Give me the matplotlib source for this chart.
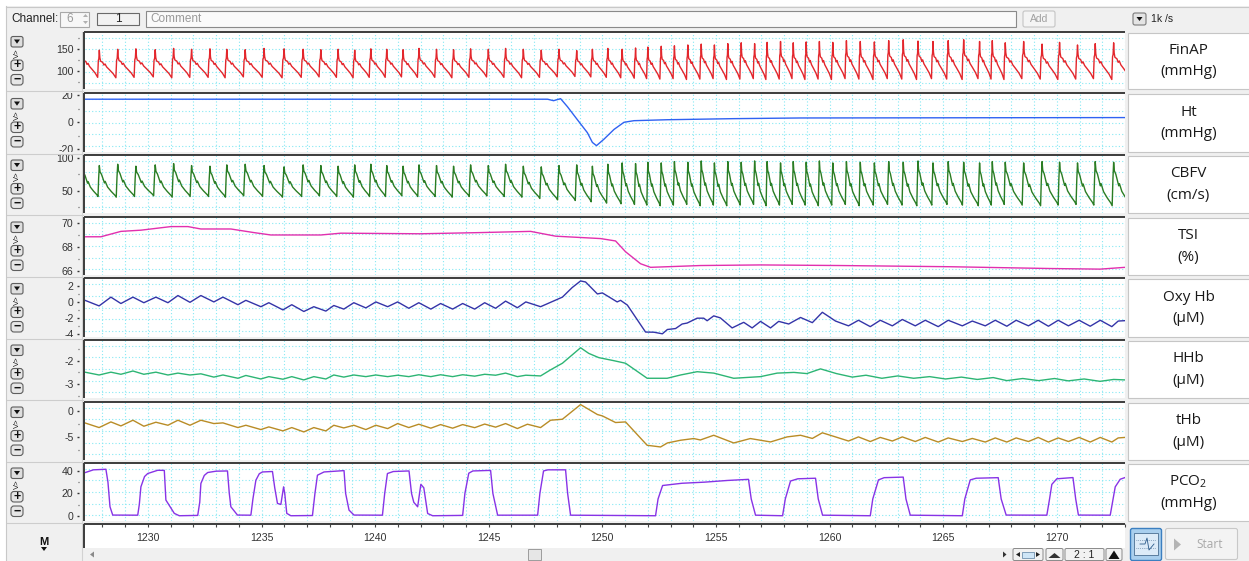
import matplotlib
matplotlib.use("Agg")
import matplotlib.pyplot as plt
from matplotlib.patches import Rectangle, FancyBboxPatch, Polygon
from matplotlib.transforms import Bbox, TransformedBbox

plt.rcParams['font.family'] = ['Liberation Sans', 'DejaVu Sans']
plt.rcParams['mathtext.fontset'] = 'custom'
plt.rcParams['mathtext.rm'] = 'Open Sans'

# ---------------- data (read from the recording) ----------------
T_START, T_END = 1227.23, 1273.0
time_ticks = [1230, 1235, 1240, 1245, 1250, 1255, 1260, 1265, 1270]

# systolic peak times of each heart beat (s)
beat_t = [1227.14, 1227.86, 1228.67, 1229.47, 1230.32, 1231.13, 1231.92, 1232.73, 1233.47, 1234.28,
          1235.11, 1235.99, 1236.83, 1237.61, 1238.37, 1239.10, 1239.81, 1240.51, 1241.23, 1241.93,
          1242.70, 1243.45, 1244.20, 1244.98, 1245.74, 1246.52, 1247.31, 1248.09, 1248.87, 1249.56,
          1250.24, 1250.87, 1251.46, 1252.00, 1252.59, 1253.17, 1253.76, 1254.35, 1254.93, 1255.52,
          1256.11, 1256.70, 1257.25, 1257.84, 1258.40, 1258.97, 1259.55, 1260.14, 1260.74, 1261.35,
          1261.97, 1262.60, 1263.24, 1263.89, 1264.55, 1265.22, 1265.90, 1266.60, 1267.16, 1267.73,
          1268.54, 1269.35, 1270.12, 1270.91, 1271.69, 1272.50, 1273.30]
finap_sys = [150, 148, 150, 151, 149, 152, 150, 151, 150, 149, 152, 151, 150, 149, 150, 148, 151, 150, 149, 152,
             150, 149, 151, 150, 152, 150, 148, 150, 147, 150, 152, 150, 153,
             155, 157, 158, 160, 162, 160, 163, 165, 163, 166, 168, 165, 167, 168, 166, 170, 168, 167, 170, 172,
             169, 168, 170, 172, 168, 170, 165, 168, 162, 166, 160, 163, 165, 164]
finap_dia = [86, 85, 84, 85, 86, 84, 85, 85, 84, 86, 85, 84, 85, 86, 85, 84, 85, 85, 86, 85,
             85, 84, 85, 86, 85, 84, 85, 86, 87, 86, 85, 84, 83,
             82, 81, 82, 80, 81, 82, 80, 81, 82, 80, 81, 82, 80, 81, 80, 82, 81, 80, 82, 81,
             80, 82, 81, 80, 82, 81, 80, 82, 81, 80, 81, 82, 80, 81]
cbfv_sys = [86, 88, 90, 87, 89, 91, 88, 87, 89, 90, 88, 86, 89, 88, 87, 89, 90, 88, 87, 89,
            88, 87, 89, 88, 90, 87, 86, 88, 89, 87, 90, 92, 91,
            93, 92, 94, 93, 95, 92, 94, 93, 95, 94, 92, 94, 93, 95, 92, 94, 93, 92, 94, 93,
            95, 92, 94, 93, 92, 94, 93, 92, 94, 93, 92, 94, 93, 92]
cbfv_dia = [42, 41, 40, 41, 42, 40, 41, 41, 40, 42, 41, 40, 41, 42, 41, 40, 41, 41, 42, 41,
            41, 40, 41, 42, 41, 40, 38, 36, 35, 33, 31, 30, 29,
            28, 27, 28, 29, 27, 28, 27, 28, 29, 27, 28, 29, 28, 27, 28, 29, 27, 28, 29, 28,
            27, 28, 29, 28, 27, 28, 29, 28, 27, 28, 29, 28, 27, 28]

# one beat, from a systolic peak to the next (phase 0..1, 1 = peak, 0 = diastolic floor)
finap_shape_p = [0, 0.03, 0.07, 0.18, 0.25, 0.31, 0.40, 0.55, 0.75, 0.90, 0.94, 0.97, 1.0]
finap_shape_v = [1.0, 0.72, 0.6, 0.56, 0.46, 0.5, 0.39, 0.29, 0.15, 0.0, 0.62, 0.68, 1.0]
cbfv_shape_p = [0, 0.04, 0.12, 0.20, 0.28, 0.32, 0.45, 0.65, 0.85, 0.92, 0.96, 1.0]
cbfv_shape_v = [1.0, 0.8, 0.72, 0.58, 0.45, 0.5, 0.32, 0.18, 0.06, 0.0, 0.6, 1.0]

ht_t = [1227.23, 1235.0, 1247.59, 1247.85, 1248.16, 1248.46, 1248.90, 1249.34, 1249.56, 1249.74,
        1250.07, 1250.51, 1250.95, 1251.39, 1252.85, 1255.78, 1258.72, 1273.0]
ht_v = [17.1, 17.1, 17.1, 16.0, 17.5, 11.6, 1.9, -7.7, -14.9, -17.3,
        -12.5, -5.3, 0.0, 1.2, 1.9, 2.7, 3.2, 3.5]

tsi_t = [1227.23, 1227.93, 1228.81, 1229.69, 1231.01, 1231.76, 1232.33, 1233.65, 1234.66, 1235.41,
         1237.61, 1238.49, 1242.0, 1244.64, 1246.84, 1247.94, 1249.92, 1250.58, 1251.02, 1251.68,
         1252.12, 1254.32, 1256.96, 1260.47, 1265.31, 1269.71, 1271.91, 1273.0]
tsi_v = [68.85, 68.85, 69.3, 69.4, 69.7, 69.7, 69.5, 69.5, 69.2, 69.0,
         69.0, 69.15, 69.1, 69.2, 69.3, 68.9, 68.7, 68.5, 67.6, 66.6,
         66.3, 66.45, 66.5, 66.45, 66.35, 66.2, 66.15, 66.3]

oxy_t = [1227.23, 1227.85, 1228.37, 1228.81, 1229.34, 1229.82, 1230.35, 1230.88, 1231.32, 1231.85,
         1232.33, 1232.90, 1233.30, 1233.96, 1234.31, 1234.97, 1235.32, 1235.94, 1236.33, 1236.86,
         1237.30, 1237.83, 1238.18, 1238.62, 1239.06, 1239.59, 1240.03, 1240.55, 1240.99, 1241.48,
         1241.92, 1242.45, 1242.88, 1243.41, 1243.85, 1244.38, 1244.82, 1245.30, 1245.74, 1246.26,
         1246.63, 1247.28, 1248.24, 1248.67, 1249.04, 1249.26, 1249.78, 1250.00, 1250.65, 1250.80,
         1251.10, 1251.90, 1252.27, 1252.64, 1252.86, 1253.22, 1253.51, 1253.73, 1254.17, 1254.46,
         1254.61, 1254.90, 1255.19, 1255.71, 1256.22, 1256.59, 1256.96, 1257.40, 1257.76, 1258.20,
         1258.72, 1259.24, 1259.68, 1260.26, 1260.83, 1261.27, 1261.79, 1262.23, 1262.76, 1263.20,
         1263.77, 1264.21, 1264.78, 1265.22, 1265.84, 1266.28, 1266.85, 1267.29, 1267.80, 1268.21,
         1268.75, 1269.18, 1269.63, 1270.06, 1270.51, 1270.98, 1271.47, 1271.91, 1272.42, 1272.70,
         1273.0]
oxy_v = [0.2, -0.5, 0.6, -0.2, 0.6, -0.1, 0.6, -0.1, 0.8, -0.05,
         0.8, 0.0, 0.6, -0.35, 0.2, -0.6, -0.1, -1.0, -0.35, -1.2,
         -0.6, -1.15, -0.45, -0.9, -0.1, -0.75, 0.0, -0.6, 0.0, -0.8,
         -0.1, -0.9, -0.2, -0.9, -0.2, -0.9, -0.1, -0.8, 0.1, -0.73,
         0.0, -0.6, 0.6, 1.8, 2.63, 2.5, 1.0, 1.13, 0.0, 0.2,
         -0.4, -3.78, -3.8, -4.0, -3.46, -3.34, -2.77, -2.65, -2.04, -2.04,
         -2.36, -1.75, -2.0, -3.26, -2.56, -3.26, -2.44, -3.26, -2.44, -2.77,
         -1.95, -2.6, -1.3, -2.4, -3.0, -2.3, -3.1, -2.3, -3.0, -2.2,
         -3.0, -2.3, -3.1, -2.3, -3.0, -2.4, -3.0, -2.3, -3.05, -2.3,
         -3.0, -2.3, -3.05, -2.3, -3.0, -2.3, -3.05, -2.3, -3.1, -2.4,
         -2.35]

hhb_t = [1227.23, 1227.85, 1228.37, 1228.81, 1229.34, 1229.82, 1230.35, 1230.88, 1231.32, 1231.85,
         1232.33, 1232.90, 1233.30, 1233.96, 1234.31, 1234.97, 1235.32, 1235.94, 1236.33, 1236.86,
         1237.30, 1237.83, 1238.18, 1238.62, 1239.06, 1239.59, 1240.03, 1240.55, 1240.99, 1241.48,
         1241.92, 1242.45, 1242.88, 1243.41, 1243.85, 1244.38, 1244.82, 1245.30, 1245.74, 1246.26,
         1246.63, 1247.28, 1247.72, 1248.24, 1249.04, 1249.40, 1249.84, 1250.50, 1251.02, 1251.97,
         1252.85, 1253.44, 1254.17, 1254.90, 1255.78, 1256.96, 1257.69, 1258.43, 1259.0, 1259.6,
         1260.3, 1261.0, 1261.6, 1262.3, 1263.0, 1263.7, 1264.4, 1265.1, 1265.8, 1266.5,
         1267.2, 1267.8, 1268.5, 1269.2, 1269.9, 1270.5, 1271.2, 1271.9, 1272.5, 1273.0]
hhb_v = [-2.49, -2.61, -2.49, -2.58, -2.44, -2.58, -2.49, -2.61, -2.53, -2.61,
         -2.56, -2.70, -2.61, -2.75, -2.63, -2.78, -2.68, -2.79, -2.68, -2.82,
         -2.68, -2.78, -2.61, -2.70, -2.61, -2.68, -2.61, -2.68, -2.62, -2.68,
         -2.60, -2.68, -2.60, -2.68, -2.60, -2.66, -2.58, -2.62, -2.53, -2.68,
         -2.62, -2.65, -2.39, -2.11, -1.45, -1.69, -1.87, -2.0, -2.11, -2.75,
         -2.75, -2.61, -2.47, -2.53, -2.75, -2.68, -2.53, -2.5, -2.55, -2.35,
         -2.55, -2.7, -2.62, -2.75, -2.65, -2.75, -2.68, -2.78, -2.7, -2.8,
         -2.72, -2.85, -2.76, -2.85, -2.76, -2.86, -2.78, -2.88, -2.8, -2.82]

thb_t = [1227.23, 1227.85, 1228.37, 1228.81, 1229.34, 1229.82, 1230.35, 1230.88, 1231.32, 1231.85,
         1232.33, 1232.90, 1233.30, 1233.96, 1234.31, 1234.97, 1235.32, 1235.94, 1236.33, 1236.86,
         1237.30, 1237.83, 1238.18, 1238.62, 1239.06, 1239.59, 1240.03, 1240.55, 1240.99, 1241.48,
         1241.92, 1242.45, 1242.88, 1243.41, 1243.85, 1244.38, 1244.82, 1245.30, 1245.74,
         1246.26, 1246.70, 1247.28, 1247.72, 1248.24, 1249.04, 1249.78, 1250.00, 1250.58, 1251.02,
         1251.97, 1252.56, 1252.86, 1253.44, 1254.02, 1254.31, 1254.90, 1255.78, 1256.51, 1257.40,
         1258.13, 1258.72,
         1259.24, 1259.68, 1260.26, 1260.83, 1261.27, 1261.79, 1262.23, 1262.76, 1263.20, 1263.77,
         1264.21, 1264.78, 1265.22, 1265.84, 1266.28, 1266.85, 1267.29, 1267.80, 1268.21, 1268.75,
         1269.18, 1269.63, 1270.06, 1270.51, 1270.98, 1271.47, 1271.91, 1272.42, 1272.70, 1273.0]
thb_v = [-2.28, -3.18, -2.08, -2.86, -1.75, -2.92, -2.14, -2.73, -1.75, -2.73,
         -1.75, -2.40, -2.27, -3.18, -2.73, -3.57, -3.05, -3.83, -3.18, -4.03,
         -3.18, -3.83, -2.73, -3.25, -2.73, -3.57, -2.73, -3.38, -2.40, -3.18,
         -2.53, -3.3, -2.6, -3.3, -2.6, -3.2, -2.5, -3.1, -2.4,
         -3.37, -2.53, -3.18, -1.75, -1.56, 1.3, -0.64, -0.91, -2.2, -2.08,
         -6.63, -6.96, -6.18, -5.65, -5.32, -5.6, -4.68, -6.18, -5.32, -5.98,
         -5.0, -4.68,
         -5.3, -4.2, -5.0, -5.8, -5.0, -5.9, -5.1, -5.8, -5.0, -5.9,
         -5.1, -6.0, -5.2, -5.9, -5.3, -6.0, -5.2, -6.0, -5.2, -5.9,
         -5.1, -6.0, -5.2, -5.9, -5.1, -6.0, -5.1, -6.0, -5.2, -5.1]

pco2_t = [1227.23, 1227.32, 1227.6, 1228.15, 1228.24, 1228.33, 1228.45, 1229.55, 1229.62, 1229.69,
          1229.85, 1229.99, 1230.43, 1230.72, 1230.79, 1231.16, 1231.38, 1232.19, 1232.28, 1232.33,
          1232.48, 1232.63, 1233.0, 1233.50, 1233.58, 1233.65, 1233.94, 1234.53, 1234.62, 1234.75,
          1234.9, 1235.04, 1235.48, 1235.58, 1235.70, 1235.85, 1235.97, 1236.02, 1236.11, 1236.29,
          1237.24, 1237.35, 1237.46, 1237.75, 1238.63, 1238.70, 1238.85, 1239.07, 1240.32, 1240.42,
          1240.54, 1240.8, 1241.49, 1241.60, 1241.70, 1241.87, 1242.01, 1242.14, 1242.31, 1242.53,
          1243.85, 1243.95, 1244.12, 1244.3, 1245.08, 1245.18, 1245.39, 1247.15, 1247.25, 1247.41,
          1247.6, 1248.38, 1248.47, 1248.60, 1252.34, 1252.45, 1252.65, 1253.5, 1254.5, 1255.5,
          1256.43, 1256.55, 1256.74, 1257.93, 1258.05, 1258.28, 1258.6, 1259.38, 1259.5, 1259.69,
          1261.79, 1261.9, 1262.15, 1262.4, 1263.24, 1263.36, 1263.55, 1265.84, 1265.95, 1266.19,
          1266.45, 1267.42, 1267.55, 1267.77, 1269.56, 1269.68, 1269.78, 1270.0, 1270.71, 1270.83,
          1270.95, 1272.35, 1272.57, 1272.79, 1273.0]
pco2_v = [38.5, 39.1, 41.0, 41.5, 30, 8, 0.6, 0.5, 10, 25.8,
          35, 37.7, 40.6, 40.5, 14, 2.1, 0, 0.3, 12, 28.8,
          36, 38.6, 39.8, 40, 20, 8, 0.6, 0.5, 15, 31.7,
          37.5, 39.1, 39.5, 25, 11, 10.1, 25.8, 20, 2.1, 0,
          0.2, 20, 36.2, 39.1, 40.3, 20, 5, 0.6, 0.5, 20,
          37.7, 39.5, 40, 20, 12, 8, 28, 25, 2, 0,
          0.3, 20, 38, 40, 40.5, 20, 0.5, 0.5, 20, 40,
          41, 41, 20, 0.5, 0, 15, 27, 29, 30, 31.5,
          32.5, 15, 0.5, 0, 15, 31, 33, 33.5, 15, 0.5,
          0, 15, 32, 34, 34.5, 15, 0.5, 0, 15, 32,
          33.5, 34, 15, 0.6, 0.5, 15, 28, 33, 34.1, 15,
          0.6, 0.5, 25.8, 32.6, 34.1]


def pulse_trace(peaks, sys_v, dia_v, shape_p, shape_v):
    """Chain one beat template per heart beat, scaled to that beat's systolic/diastolic values."""
    trough = shape_v.index(0.0)
    ts, vs = [], []
    for i in range(len(peaks) - 1):
        t0, t1 = peaks[i], peaks[i + 1]
        floor = dia_v[i + 1]
        for k in range(len(shape_p) - 1):
            top = sys_v[i] if k <= trough else sys_v[i + 1]
            ts.append(t0 + shape_p[k] * (t1 - t0))
            vs.append(floor + (top - floor) * shape_v[k])
    ts.append(peaks[-1])
    vs.append(sys_v[-1])
    return ts, vs


finap_t, finap_v = pulse_trace(beat_t, finap_sys, finap_dia, finap_shape_p, finap_shape_v)
cbfv_t, cbfv_v = pulse_trace(beat_t, cbfv_sys, cbfv_dia, cbfv_shape_p, cbfv_shape_v)

channels = [
    dict(name='FinAP', unit='(mmHg)', color='#e3262c', ylim=(58, 190),
         major=[100, 150], minor=[75, 125, 175], t=finap_t, v=finap_v),
    dict(name='Ht', unit='(mmHg)', color='#2f62f2', ylim=(-22, 21.7),
         major=[-20, 0, 20], minor=[-10, 10], t=ht_t, v=ht_v),
    dict(name='CBFV', unit='(cm/s)', color='#2a7d24', ylim=(16, 104),
         major=[50, 100], minor=[25, 75], t=cbfv_t, v=cbfv_v),
    dict(name='TSI', unit='(%)', color='#e22fae', ylim=(65.66, 70.5),
         major=[66, 68, 70], minor=[67, 69], t=tsi_t, v=tsi_v),
    dict(name='Oxy Hb', unit='(µM)', color='#3434a8', ylim=(-4.4, 3.0),
         major=[-4, -2, 0, 2], minor=[-3, -1, 1], t=oxy_t, v=oxy_v),
    dict(name='HHb', unit='(µM)', color='#2db574', ylim=(-3.59, -1.12),
         major=[-3, -2], minor=[-3.5, -2.5, -1.5], t=hhb_t, v=hhb_v),
    dict(name='tHb', unit='(µM)', color='#b98c26', ylim=(-9.5, 1.8),
         major=[-5, 0], minor=[-7.5, -2.5], t=thb_t, v=thb_v),
    dict(name='PCO$_2$', unit='(mmHg)', color='#8833e6', ylim=(-4.7, 47.1),
         major=[0, 20, 40], minor=[10, 30], t=pco2_t, v=pco2_v),
]

# ---------------- layout (pixels of the 1249 x 561 screenshot) ----------------
W, H = 1249, 561
PX0, PX1 = 85, 1125
rows = [(32, 89), (93, 152), (155, 213), (217, 275), (278, 337), (340, 398), (402, 460), (463, 521)]
AXIS_ROW = (524, 548)
GRID = '#86e9f4'
GRID_LS = (0, (1.0, 2.0))
BORDER = '#3c3c3c'
UI_GRAY = '#f0f0f0'


def fbox(x0, y0, x1, y1):
    return [x0 / W, 1 - y1 / H, (x1 - x0) / W, (y1 - y0) / H]


fig = plt.figure(figsize=(W / 100, H / 100), dpi=100, facecolor=UI_GRAY)

ui = fig.add_axes([0, 0, 1, 1], zorder=0)
ui.set_xlim(0, W)
ui.set_ylim(H, 0)
ui.axis('off')
over = fig.add_axes([0, 0, 1, 1], zorder=20)
over.set_xlim(0, W)
over.set_ylim(H, 0)
over.axis('off')
over.patch.set_alpha(0)

# window frame
ui.add_patch(Rectangle((0, 0), W, 6, color='white', lw=0))
ui.add_patch(Rectangle((0, 0), 6, H, color='white', lw=0))
ui.plot([6, W], [6.5, 6.5], color='#c8c8c8', lw=0.8)
ui.plot([6.5, 6.5], [6, H], color='#c8c8c8', lw=0.8)

# ---------------- top tool bar ----------------
ui.text(11, 19, 'Channel:', fontsize=8.5, va='center', ha='left', color='#222222')
ui.add_patch(Rectangle((60.5, 11.5), 29, 15, fc='#f7f7f7', ec='#a8a8a8', lw=0.8))
ui.text(66, 19, '6', fontsize=8.5, va='center', color='#9a9a9a')
ui.add_patch(Polygon([[83, 17], [88, 17], [85.5, 14]], color='#b0b0b0', lw=0))
ui.add_patch(Polygon([[83, 21], [88, 21], [85.5, 24]], color='#b0b0b0', lw=0))
ui.add_patch(Rectangle((97.5, 13), 42, 12, fc='#f2f2f2', ec='#6a6a6a', lw=0.8))
ui.text(118.5, 19, '1', fontsize=8.5, va='center', ha='center', color='#222222')
ui.add_patch(Rectangle((146, 11), 870, 16, fc='#fafafa', ec='#8a8a8a', lw=0.8))
ui.text(150, 19, 'Comment', fontsize=8.5, va='center', color='#9a9a9a')
ui.add_patch(FancyBboxPatch((1023, 11), 32, 16, boxstyle='round,pad=0,rounding_size=2',
                            fc='#f4f4f4', ec='#c4c4c4', lw=0.8))
ui.text(1039, 19, 'Add', fontsize=7.5, va='center', ha='center', color='#a0a0a0')
ui.add_patch(FancyBboxPatch((1133, 13), 13, 12, boxstyle='round,pad=0,rounding_size=2',
                            fc='#e4e4e4', ec='#7a7a7a', lw=0.8))
ui.add_patch(Polygon([[1136.5, 17], [1142.5, 17], [1139.5, 21]], color='#111111', lw=0))
ui.text(1151, 19, '1k /s', fontsize=7.5, va='center', color='#222222')

# ---------------- channel panels ----------------
for ch, (y0, y1) in zip(channels, rows):
    ax = fig.add_axes(fbox(PX0, y0, PX1, y1), zorder=5)
    ax.set_facecolor('white')
    ax.plot(ch['t'], ch['v'], color=ch['color'], lw=1.0, zorder=3)
    ax.set_xlim(T_START, T_END)
    ax.set_ylim(*ch['ylim'])

    # dotted cyan grid: a line each second, five horizontal divisions
    for s in range(1228, 1274):
        ax.axvline(s, color=GRID, lw=0.8, ls=GRID_LS, zorder=1)
    for f in (0.1, 0.3, 0.5, 0.7, 0.9):
        ax.plot([0, 1], [f, f], transform=ax.transAxes, color=GRID, lw=0.8, ls=GRID_LS, zorder=1)

    ax.set_xticks([])
    ax.set_yticks(ch['major'])
    ax.set_yticks(ch['minor'], minor=True)
    ax.set_yticklabels([f'{m:g}' for m in ch['major']])
    for sp in ax.spines.values():
        sp.set_visible(False)
    ax.spines['left'].set_position(('outward', 4.3))
    ax.tick_params(axis='y', which='major', length=1.6, width=1.0, pad=2.4,
                   labelsize=7.6, colors='#333333')
    ax.tick_params(axis='y', which='minor', length=0.8, width=0.9, color='#555555')
    clip = TransformedBbox(Bbox.from_extents(0, 1 - y1 / H, PX0 / W, 1 - y0 / H), fig.transFigure)
    for tick in ax.yaxis.get_major_ticks():
        tick.label1.set_clip_box(clip)
        tick.label1.set_clip_on(True)

    # panel borders
    over.plot([PX0 - 1, PX1], [y0, y0], color=BORDER, lw=1.4, solid_capstyle='butt')
    over.plot([PX0 - 0.5, PX0 - 0.5], [y0, y1], color=BORDER, lw=1.4, solid_capstyle='butt')
    ui.plot([7, PX0 - 2], [y1 + 1.5, y1 + 1.5], color='#cdcdcd', lw=0.8)

    # side buttons
    c = (y0 + y1) / 2
    ui.add_patch(FancyBboxPatch((11, c - 24), 12, 10.5, boxstyle='round,pad=0,rounding_size=2',
                                fc='#dedede', ec='#5e5e5e', lw=0.8))
    ui.add_patch(Polygon([[14, c - 21], [20, c - 21], [17, c - 16.8]], color='#111111', lw=0))
    ui.text(17, c - 7.8, 'V>', fontsize=5.6, rotation=90, ha='center', va='center', color='#222222')
    for dy, sym in ((4.5, '+'), (19, '−')):
        ui.add_patch(FancyBboxPatch((11, c + dy - 5), 12, 10.5,
                                    boxstyle='round,pad=0,rounding_size=3',
                                    fc='#e6e6e6', ec='#5e5e5e', lw=0.8))
        ui.text(17, c + dy + 0.4, sym, fontsize=9, fontweight='bold', ha='center', va='center',
                color='#111111')

    # name box on the right
    ui.add_patch(Rectangle((1128.5, y0 + 0.5), 125, y1 - y0 - 1, fc='white', ec='#c6c6c6', lw=0.8))
    ui.text(1188.5, c - 10.5, ch['name'], fontsize=11, ha='center', va='center',
            family=['Open Sans', 'DejaVu Sans'], color='#1a1a1a')
    ui.text(1188.5, c + 11, ch['unit'], fontsize=11, ha='center', va='center',
            family=['Open Sans', 'DejaVu Sans'], color='#1a1a1a')

# ---------------- time axis ----------------
y0, y1 = AXIS_ROW
axt = fig.add_axes(fbox(PX0, y0, PX1, y1), zorder=5)
axt.set_facecolor('white')
axt.set_xlim(T_START, T_END)
axt.set_ylim(0, 1)
axt.set_yticks([])
axt.set_xticks(range(1228, 1274))
axt.tick_params(axis='x', which='major', top=True, bottom=False, direction='in', length=2,
                width=0.8, color='#444444', labelbottom=False)
for sp in axt.spines.values():
    sp.set_visible(False)
for t in time_ticks:
    axt.text(t, 0.42, str(t), fontsize=7.6, ha='center', va='center', color='#333333')
over.plot([PX0 - 1, PX1], [y0, y0], color=BORDER, lw=1.4, solid_capstyle='butt')
over.plot([PX0 - 0.5, PX0 - 0.5], [y0, y1], color=BORDER, lw=1.4, solid_capstyle='butt')
ui.text(44, 542, 'M', fontsize=8, fontweight='bold', ha='center', va='center', color='#111111')
ui.add_patch(Polygon([[41, 547], [47, 547], [44, 551]], color='#111111', lw=0))
ui.plot([82, 82], [32, H], color='#d2d2d2', lw=0.8)

# ---------------- scroll bar and bottom controls ----------------
ui.add_patch(Rectangle((PX0, 548.5), 915, 12.5, fc='#f0f0f0', ec='none'))
ui.add_patch(Polygon([[90, 554.5], [94, 551.5], [94, 557.5]], color='#8a8a8a', lw=0))
ui.add_patch(Rectangle((528.5, 549), 13, 11, fc='#e6e6e6', ec='#9c9c9c', lw=0.7))
ui.add_patch(Polygon([[1003, 551.5], [1003, 557.5], [1006.5, 554.5]], color='#333333', lw=0))
for bx0, bx1 in ((1013, 1043), (1046, 1063), (1065, 1104), (1106, 1122)):
    ui.add_patch(FancyBboxPatch((bx0, 548.5), bx1 - bx0, 12, boxstyle='round,pad=0,rounding_size=1.5',
                                fc='#f2f2f2', ec='#8a8a8a', lw=0.7))
ui.add_patch(Polygon([[1016, 554.5], [1020, 552], [1020, 557]], color='#222222', lw=0))
ui.add_patch(Polygon([[1040, 554.5], [1036, 552], [1036, 557]], color='#222222', lw=0))
ui.add_patch(Rectangle((1022, 551.5), 12, 6, fc='#cfe6f7', ec='#5a7fa0', lw=0.5))
ui.add_patch(Polygon([[1048.5, 558], [1054.5, 553], [1060.5, 558]], color='#333333', lw=0))
ui.text(1084.5, 554.8, '2 : 1', fontsize=7.5, ha='center', va='center', color='#222222')
ui.add_patch(Polygon([[1108.5, 559], [1114, 550.5], [1119.5, 559]], color='#111111', lw=0))

ui.add_patch(FancyBboxPatch((1130.5, 528.5), 31, 32, boxstyle='round,pad=0,rounding_size=2',
                            fc='#a9cfee', ec='#3c7fc0', lw=1.0))
ui.add_patch(Rectangle((1134, 533), 24, 22, fc='#dcebf8', ec='#4a6f92', lw=0.6))
ui.plot([1136, 1156], [540, 540], color='#4a6f92', lw=0.5, ls=':')
ui.plot([1136, 1156], [548, 548], color='#4a6f92', lw=0.5, ls=':')
ui.plot([1140, 1145, 1147, 1149, 1154], [544, 544, 538, 550, 544], color='#2a5a8a', lw=0.6)
ui.add_patch(FancyBboxPatch((1165.5, 528.5), 72, 31, boxstyle='round,pad=0,rounding_size=2',
                            fc='#f3f3f3', ec='#c8c8c8', lw=0.8))
ui.add_patch(Polygon([[1174, 538.5], [1174, 550.5], [1181, 544.5]], color='#b4b4b4', lw=0))
ui.text(1210, 544.5, 'Start', fontsize=8.5, ha='center', va='center', color='#a8a8a8',
        family=['Open Sans', 'DejaVu Sans'])

fig.savefig('out.png', dpi=100, facecolor=fig.get_facecolor())
